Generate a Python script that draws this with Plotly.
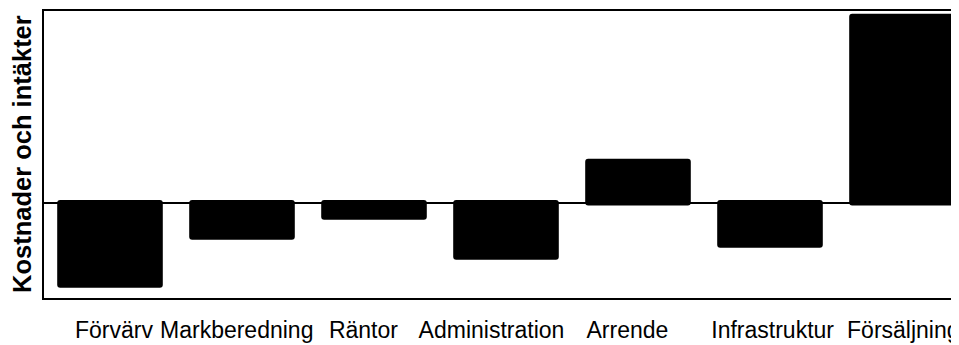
import plotly.graph_objects as go

categories = ["Förvärv", "Markberedning", "Räntor", "Administration", "Arrende", "Infrastruktur", "Försäljning"]
values = [-85, -37, -17, -57, 44, -45, 189]
axis_title = "Kostnader och intäkter"

# style: small label shifts (in category units) to mimic the original label placement
label_shift = [0.03, -0.04, -0.08, -0.11, -0.08, 0.02, 0.01]
overlap = 2.8  # bars start slightly past the zero line

x_idx = list(range(len(categories)))
base = [overlap if v < 0 else -overlap for v in values]
heights = [v - b for v, b in zip(values, base)]

fig = go.Figure(go.Bar(
    x=x_idx, y=heights, base=base, width=0.8,
    marker=dict(color="black", line=dict(width=0), cornerradius=3),
    hoverinfo="skip",
))

# page body has an 8px default margin; the figure runs past the window edge like the original
W, H = 960, 345
ml, mr, mt, mb = 36, 0, 3, 55
plot_w = W - ml - mr
band = 132
xmax = -0.5 + plot_w / band

fig.update_layout(
    width=W, height=H,
    margin=dict(l=ml, r=mr, t=mt, b=mb, pad=0, autoexpand=False),
    plot_bgcolor="white", paper_bgcolor="white",
    showlegend=False,
    font=dict(family="Liberation Sans, Arial, sans-serif", color="black"),
    xaxis=dict(
        range=[-0.5, xmax], showgrid=False, zeroline=False, automargin=False,
        showline=True, linecolor="black", linewidth=2, mirror=True,
        tickmode="array", tickvals=[i + s for i, s in zip(x_idx, label_shift)],
        ticktext=categories, ticks="", tickfont=dict(size=23), tickangle=0,
        ticklabelstandoff=10, ticklabeloverflow="allow",
    ),
    yaxis=dict(
        range=[-95.3, 191.7], showgrid=False, showticklabels=False, ticks="",
        showline=True, linecolor="black", linewidth=2, mirror=False, automargin=False,
        zeroline=True, zerolinecolor="black", zerolinewidth=1.5,
    ),
    annotations=[dict(
        text=axis_title, textangle=-90, xref="paper", yref="paper",
        x=(21.5 - 44) / plot_w, y=0.5, xanchor="center", yanchor="middle",
        showarrow=False, font=dict(size=25.5, weight="bold"),
    )],
)

fig.write_html("out.html")
